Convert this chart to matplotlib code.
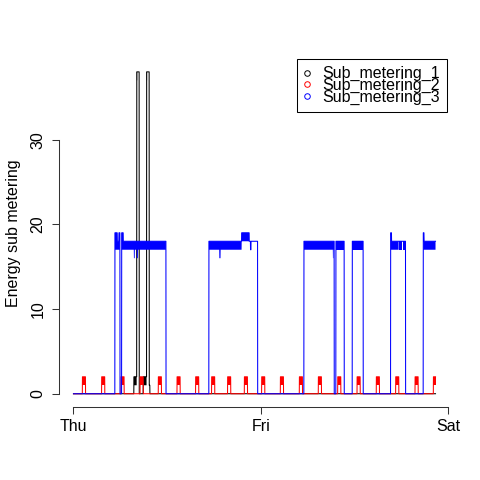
import numpy as np
import matplotlib
matplotlib.use("Agg")
import matplotlib.pyplot as plt
from matplotlib.lines import Line2D

plt.rcParams['font.family'] = ['Liberation Sans', 'DejaVu Sans']

# minutes since Thu 00:00
n_minutes = 2786

# segments: start minute, end minute, low value, high value
sub1_start = [465, 487, 491, 537, 563, 567, 583]
sub1_end = [487, 491, 506, 563, 567, 583, 588]
sub1_low = [1, 37, 38, 1, 37, 38, 1]
sub1_high = [2, 38, 38, 2, 38, 38, 1]

# sub_metering_2: short spikes between 1 and 2
sub2_centre = [81, 229, 378, 525, 665, 809, 952, 1075, 1198, 1327,
               1460, 1604, 1750, 1896, 2045, 2194, 2342, 2491, 2640, 2781]
sub2_half_width = 12
sub2_low = 1
sub2_high = 2

sub3_start = [319, 337, 350, 371, 383, 465, 472, 488, 496,
              1042, 1122, 1132, 1294, 1352, 1362, 1366,
              1773, 1996, 2001, 2019,
              2145,
              2440, 2447, 2502, 2506, 2530, 2534,
              2691, 2697]
sub3_end = [337, 350, 358, 383, 465, 472, 488, 496, 712,
            1122, 1132, 1294, 1352, 1362, 1366, 1417,
            1996, 2001, 2006, 2083,
            2229,
            2447, 2502, 2506, 2530, 2534, 2555,
            2697, 2786]
sub3_low = [17, 17, 17, 17, 17, 16, 17, 16, 17,
            17, 16, 17, 18, 18, 17, 18,
            17, 16, 17, 17,
            17,
            17, 17, 18, 17, 18, 17,
            17, 17]
sub3_high = [19, 18, 19, 19, 18, 18, 18, 18, 18,
             18, 18, 18, 19, 18, 17, 18,
             18, 18, 18, 18,
             18,
             19, 18, 18, 18, 18, 18,
             19, 18]

tick_pos = [0, 1440, 2880]
tick_lab = ['Thu', 'Fri', 'Sat']
labels = ['Sub_metering_1', 'Sub_metering_2', 'Sub_metering_3']
colours = ['black', 'red', 'blue']

t = np.arange(n_minutes)


def build(starts, ends, lows, highs):
    lo = np.zeros(n_minutes)
    hi = np.zeros(n_minutes)
    for s, e, l, h in zip(starts, ends, lows, highs):
        lo[s:e] = l
        hi[s:e] = h
    return lo, hi


series = [
    build(sub1_start, sub1_end, sub1_low, sub1_high),
    build([c - sub2_half_width for c in sub2_centre],
          [min(c + sub2_half_width, n_minutes) for c in sub2_centre],
          [sub2_low] * len(sub2_centre), [sub2_high] * len(sub2_centre)),
    build(sub3_start, sub3_end, sub3_low, sub3_high),
]

fig = plt.figure(figsize=(4.8, 4.8), dpi=100)
ax = fig.add_axes([59 / 480, 73.4 / 480, 391 / 480, 347.6 / 480])

for k, (lo, hi) in enumerate(series):
    ax.plot(t, hi, color=colours[k], lw=0.75, zorder=2 + k)
    ax.fill_between(t, lo, hi, where=hi > lo, color=colours[k], lw=0,
                    zorder=2 + k)

ymax = max(hi.max() for lo, hi in series)
span = t[-1] - t[0]
ax.set_xlim(t[0] - 0.04 * span, t[-1] + 0.04 * span)
ax.set_ylim(-0.04 * ymax, 1.04 * ymax)

ax.set_xticks(tick_pos)
ax.set_xticklabels(tick_lab)
ax.set_yticks([0, 10, 20, 30])
for lab in ax.get_yticklabels():
    lab.set_rotation(90)
    lab.set_va('center')
ax.tick_params(direction='out', length=5.2, width=0.75, labelsize=11.5,
               color='#333333')
ax.tick_params(axis='x', pad=3.5)
ax.tick_params(axis='y', pad=4.5)
for side in ['top', 'right']:
    ax.spines[side].set_visible(False)
ax.spines['left'].set_bounds(0, 30)
ax.spines['bottom'].set_bounds(0, 2880)
for side in ['left', 'bottom']:
    ax.spines[side].set_linewidth(0.75)
    ax.spines[side].set_color('#333333')
ax.set_ylabel('Energy sub metering', fontsize=11.5, labelpad=7)

handles = [Line2D([], [], marker='o', ls='none', mfc='none', mec=c,
                  ms=4, mew=0.7) for c in colours]
leg = ax.legend(handles, labels, loc='upper right',
                bbox_to_anchor=(0.992, 1), borderaxespad=0,
                fancybox=False, edgecolor='black', framealpha=1,
                fontsize=11.5, labelspacing=-0.22, handlelength=0.45,
                handletextpad=0.7, borderpad=0.45)
leg.get_frame().set_linewidth(0.75)

fig.savefig('out.png', dpi=100)
